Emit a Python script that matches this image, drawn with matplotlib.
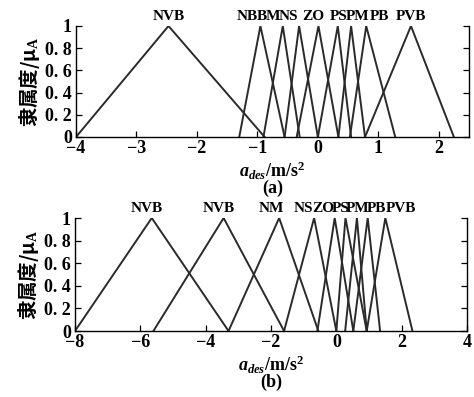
import numpy as np
import matplotlib.pyplot as plt

plt.rcParams['font.family'] = ['Liberation Serif', 'Noto Sans CJK SC']
plt.rcParams['mathtext.fontset'] = 'custom'
plt.rcParams['mathtext.rm'] = 'Liberation Serif:bold'
plt.rcParams['mathtext.it'] = 'Liberation Serif:italic:bold'

# (a) membership functions: left foot, peak, right foot
names_a = ["NVB", "NB", "BM", "NS", "ZO", "PS", "PM", "PB", "PVB"]
tri_a = [(-4.0, -2.47, -0.88), (-1.3, -0.95, -0.55), (-0.9, -0.58, -0.3),
         (-0.55, -0.31, 0.0), (-0.35, 0.01, 0.34), (0.0, 0.33, 0.55),
         (0.34, 0.55, 0.78), (0.53, 0.8, 1.28), (0.78, 1.54, 2.25)]
lab_x_a = [-2.47, -1.17, -0.81, -0.48, -0.07, 0.35, 0.66, 1.02, 1.54]

# (b)
names_b = ["NVB", "NVB", "NM", "NS", "ZO", "PS", "PM", "PB", "PVB"]
tri_b = [(-8.0, -5.65, -3.3), (-5.6, -3.45, -1.6), (-3.3, -1.75, -0.55),
         (-1.6, -0.68, 0.0), (-0.58, -0.05, 0.52), (0.0, 0.28, 0.93),
         (0.27, 0.63, 0.93), (0.52, 0.96, 1.34), (0.93, 1.5, 2.33)]
lab_x_b = [-5.8, -3.6, -2.0, -1.02, -0.41, 0.14, 0.66, 1.22, 1.98]

yticks = [0, 0.2, 0.4, 0.6, 0.8, 1]
ytick_labels = ["0", "0. 2", "0. 4", "0. 6", "0. 8", "1"]

fig = plt.figure(figsize=(4.74, 3.97), dpi=100)
W, H = 474, 397
ax1 = fig.add_axes([76 / W, 1 - 137 / H, 393 / W, 111 / H])
ax2 = fig.add_axes([75 / W, 1 - 331 / H, 392 / W, 113 / H])


def draw(ax, tris, names, labx, xlim, xticks, tag):
    for t in tris:
        ax.plot(t, [0, 1, 0], color="#2a2a2a", lw=1.4, solid_joinstyle="miter")
    for n, x in zip(names, labx):
        ax.text(x, 1.03, n, ha="center", va="bottom", fontsize=11,
                fontweight="bold")
    ax.set_xlim(*xlim)
    ax.set_ylim(0, 1)
    ax.set_xticks(xticks)
    ax.set_xticklabels(["\u2212%d" % -v if v < 0 else "%d" % v for v in xticks],
                       fontsize=13, fontweight="bold")
    ax.set_yticks(yticks)
    ax.set_yticklabels(ytick_labels, fontsize=13, fontweight="bold")
    ax.tick_params(direction="in", length=4, width=0.9, right=True)
    ax.tick_params(axis="x", pad=2.5)
    ax.tick_params(axis="y", pad=3)
    ax.spines["top"].set_visible(False)
    for s in ["left", "right", "bottom"]:
        ax.spines[s].set_linewidth(1.0)
    ax.set_xlabel(r"$\mathit{a}_{\mathit{des}}$/m/s$^{2}$" + "\n(" + tag + ")",
                  fontsize=13, fontweight="bold", labelpad=1.5, linespacing=0.85)
    ax.set_ylabel("隶属度/μ$_{\\mathrm{A}}$", fontsize=14, labelpad=2,
                  fontweight="bold", family=["Noto Sans CJK SC"])


draw(ax1, tri_a, names_a, lab_x_a, (-4, 2.5), [-4, -3, -2, -1, 0, 1, 2], "a")
draw(ax2, tri_b, names_b, lab_x_b, (-8, 4), [-8, -6, -4, -2, 0, 2, 4], "b")

fig.savefig("out.png", dpi=100)
